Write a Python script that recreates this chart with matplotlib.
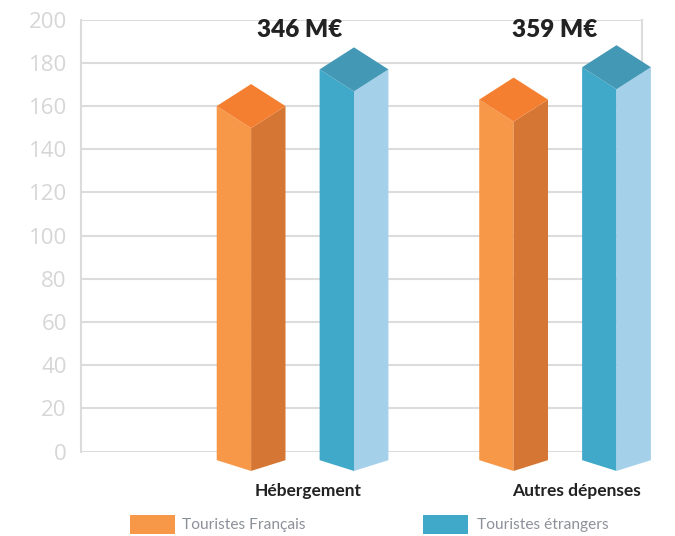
import matplotlib
matplotlib.use('Agg')
import matplotlib.pyplot as plt
from matplotlib.patches import Polygon, Rectangle

# Donnees
categories = ['Hébergement', 'Autres dépenses']
totaux = ['346 M€', '359 M€']
series = ['Touristes Français', 'Touristes étrangers']
francais = [160, 163]
etrangers = [177, 178]
yticks = list(range(0, 201, 20))

# couleurs des faces : (gauche, droite, dessus)
couleurs = [('#F79848', '#D57634', '#F57F30'),
            ('#40A8C8', '#A5D0EA', '#4398B5')]


def prisme(ax, cx, v, faces, w=0.131, h=10.2, bas_cote=-4.0, bas_face=-9.0):
    gauche, droite, dessus = faces
    ax.add_patch(Polygon([(cx - w, v), (cx, v - h), (cx, bas_face), (cx - w, bas_cote)],
                         closed=True, facecolor=gauche, edgecolor='none', zorder=3, clip_on=False))
    ax.add_patch(Polygon([(cx + w, v), (cx, v - h), (cx, bas_face), (cx + w, bas_cote)],
                         closed=True, facecolor=droite, edgecolor='none', zorder=3, clip_on=False))
    ax.add_patch(Polygon([(cx, v + h), (cx - w, v), (cx, v - h), (cx + w, v)],
                         closed=True, facecolor=dessus, edgecolor='none', zorder=4, clip_on=False))


fig = plt.figure(figsize=(6.75, 5.36), dpi=100)
ax = fig.add_axes([0.1196, 0.1576, 0.8311, 0.8056])
ax.set_xlim(-0.845, 1.292)
ax.set_ylim(0, 200)

for i, cat in enumerate(categories):
    prisme(ax, i - 0.196, francais[i], couleurs[0])
    prisme(ax, i + 0.196, etrangers[i], couleurs[1])

# grille
for t in yticks:
    ax.axhline(t, color='#dcdcdc', lw=1.5, zorder=1)
for s in ['top', 'bottom']:
    ax.spines[s].set_visible(False)
for s in ['left', 'right']:
    ax.spines[s].set_color('#dcdcdc')
    ax.spines[s].set_linewidth(1.5)
    ax.spines[s].set_zorder(1)

ax.set_xticks([])
ax.set_yticks(yticks)
ax.set_yticklabels([str(t) for t in yticks], fontfamily='Open Sans', fontsize=16, color='#d6d6d6')
ax.tick_params(axis='y', length=0, pad=10)

# etiquettes
decal_cat = [0.02, 0.045]
decal_tot = [-0.01, -0.04]
for i, cat in enumerate(categories):
    ax.text(i + decal_cat[i], -18.3, cat, ha='center', va='center', fontfamily='Lato',
            fontweight='bold', fontsize=12.5, color='#222222', clip_on=False)
    ax.text(i + decal_tot[i], 195.2, totaux[i], ha='center', va='center', fontfamily='Lato',
            fontweight='heavy', fontsize=17.5, color='#222222', zorder=5)

# legende
for x_patch, x_txt, nom, c in zip([0.1926, 0.6267], [0.269, 0.706], series, couleurs):
    fig.patches.append(Rectangle((x_patch, 0.0037), 0.0667, 0.0354, transform=fig.transFigure,
                                 facecolor=c[0], edgecolor='none'))
    fig.text(x_txt, 0.0205, nom, ha='left', va='center', fontfamily='Lato', fontsize=11.2, color='#8c9099')

plt.savefig('out.png', dpi=100)
